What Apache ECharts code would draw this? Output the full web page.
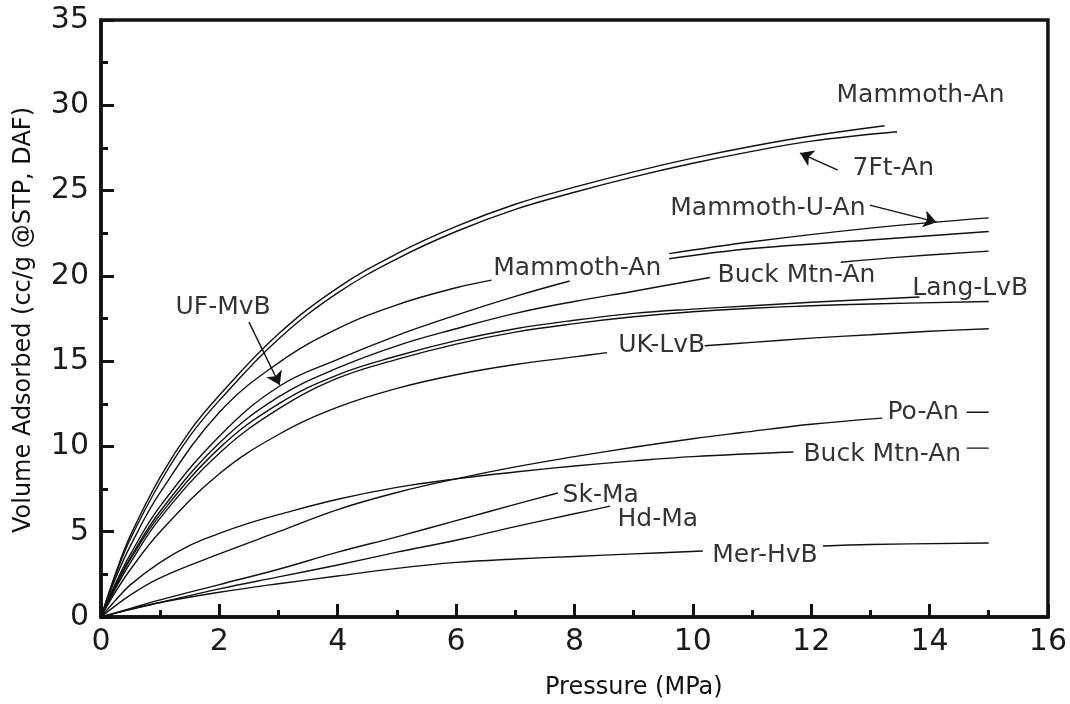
<!DOCTYPE html>
<html>
<head>
<meta charset="utf-8">
<script src="https://cdn.jsdelivr.net/npm/echarts@6/dist/echarts.min.js"></script>
<style>
  html, body { margin: 0; padding: 0; background: #fff; }
  #chart { width: 1070px; height: 704px; }
</style>
</head>
<body>
<div id="chart"></div>
<script>
// Adsorption isotherms: pressure (MPa) vs volume adsorbed (cc/g @STP, DAF).
// Each curve is a list of [pressure, volume] points; null marks a break where a label sits.
const xTickLabels = [0, 2, 4, 6, 8, 10, 12, 14, 16];
const yTickLabels = [0, 5, 10, 15, 20, 25, 30, 35];

const mammothAnTop = [[0,0],[0.25,2.6],[0.5,4.8],[1,8.2],[1.5,10.9],[2,13.0],[3,16.6],[4,19.3],[5,21.3],[6,22.9],[7,24.2],[8,25.2],[9,26.1],[10,26.9],[11,27.6],[12,28.2],[13.24,28.8]];
const sevenFtAn = [[0,0],[0.25,2.5],[0.5,4.6],[1,7.9],[1.5,10.6],[2,12.7],[3,16.3],[4,19.0],[5,21.0],[6,22.6],[7,23.9],[8,24.9],[9,25.8],[10,26.6],[11,27.3],[12,27.9],[13.45,28.45]];
const mammothAnMid = [[0,0],[0.25,2.3],[0.5,4.2],[1,7.3],[2,12.0],[3,14.9],[4,16.9],[5,18.3],[6,19.3],[6.6,19.75], null, [9.6,21.0],[11,21.6],[13,22.1],[15,22.6]];
const ufMvB = [[0,0],[0.25,2.0],[0.5,3.7],[1,6.5],[2,10.6],[3,13.5],[4,15.1],[5,16.5],[6,17.7],[7,18.8],[7.92,19.7], null, [9.6,21.3],[11,22.0],[13,22.8],[15,23.4]];
const buckMtnAnUpper = [[0,0],[0.25,1.9],[0.5,3.5],[1,6.2],[2,10.2],[3,12.9],[4,14.6],[5,15.9],[6,16.9],[7,17.8],[8,18.5],[9,19.1],[10.29,19.9], null, [12.5,20.8],[13.5,21.1],[15,21.45]];
const langLvBUpper = [[0,0],[0.25,1.8],[0.5,3.4],[1,6.0],[2,9.9],[3,12.5],[4,14.2],[5,15.3],[6,16.2],[7,16.9],[8,17.4],[9,17.8],[10,18.05],[11,18.25],[12,18.45],[13.83,18.76]];
const langLvBLower = [[0,0],[0.25,1.7],[0.5,3.2],[1,5.8],[2,9.6],[3,12.2],[4,14.0],[5,15.1],[6,16.0],[7,16.7],[8,17.2],[9,17.6],[10,17.9],[11,18.1],[12,18.25],[13,18.35],[15,18.5]];
const ukLvB = [[0,0],[0.25,1.5],[0.5,2.8],[1,5.0],[2,8.4],[3,10.7],[4,12.3],[5,13.4],[6,14.2],[7,14.8],[8,15.25],[8.55,15.5], null, [10.2,15.9],[11,16.1],[12,16.35],[13,16.55],[14,16.75],[15,16.9]];
const poAn = [[0,0],[0.5,1.3],[1,2.3],[2,3.7],[3,5.0],[4,6.3],[5,7.3],[6,8.1],[7,8.8],[8,9.4],[9,9.95],[10,10.45],[10.8,10.8],[12,11.3],[13.2,11.66], null, [14.63,12.0],[15,12.0]];
const buckMtnAnLower = [[0,0],[0.25,1.0],[0.5,1.9],[1,3.2],[1.5,4.2],[2,4.9],[2.5,5.5],[3,6.0],[4,6.9],[5,7.6],[6,8.1],[7,8.5],[8,8.85],[9,9.15],[10,9.4],[11.7,9.67], null, [14.63,9.9],[15,9.9]];
const skMa = [[0,0],[0.5,0.5],[1,1.0],[2,1.9],[3,2.8],[4,3.8],[5,4.7],[6,5.65],[7,6.6],[7.72,7.27]];
const hdMa = [[0,0],[0.5,0.45],[1,0.85],[2,1.65],[3,2.35],[4,3.05],[5,3.8],[6,4.5],[7,5.3],[8,6.05],[8.6,6.5]];
const merHvB = [[0,0],[0.5,0.45],[1,0.85],[2,1.45],[3,1.95],[4,2.4],[5,2.85],[6,3.2],[7,3.4],[8,3.55],[9,3.7],[10.17,3.87], null, [12.2,4.16],[13,4.25],[15,4.34]];

const curves = [mammothAnTop, sevenFtAn, mammothAnMid, ufMvB, buckMtnAnUpper, langLvBUpper, langLvBLower, ukLvB, poAn, buckMtnAnLower, skMa, hdMa, merHvB];

// Curve labels: [text, pressure at left edge, volume at text middle]
const curveLabels = [
  ['Mammoth-An', 12.42, 30.6],
  ['7Ft-An', 12.69, 26.3],
  ['Mammoth-U-An', 9.61, 23.97],
  ['Mammoth-An', 6.62, 20.46],
  ['Buck Mtn-An', 10.41, 20.05],
  ['Lang-LvB', 13.70, 19.28],
  ['UF-MvB', 1.25, 18.17],
  ['UK-LvB', 8.73, 15.94],
  ['Po-An', 13.28, 11.96],
  ['Buck Mtn-An', 11.86, 9.50],
  ['Sk-Ma', 7.79, 7.15],
  ['Hd-Ma', 8.72, 5.74],
  ['Mer-HvB', 10.32, 3.58]
];

// Leader arrows: [from, to] in data units
const leaderArrows = [
  [[12.45, 26.2], [11.81, 27.2]],
  [[12.99, 24.15], [14.12, 23.15]],
  [[2.5, 17.29], [3.02, 13.6]]
];

const FONT = '"DejaVu Sans", sans-serif';
const INK = '#111';

function splitSegments(points) {
  const segs = [];
  let cur = [];
  points.forEach(p => {
    if (p === null) { if (cur.length) segs.push(cur); cur = []; }
    else cur.push(p);
  });
  if (cur.length) segs.push(cur);
  return segs;
}

const series = [];
curves.forEach(c => {
  splitSegments(c).forEach(seg => {
    series.push({
      type: 'line',
      data: seg,
      smooth: 0.4,
      symbol: 'none',
      silent: true,
      lineStyle: { color: INK, width: 1.4 },
      z: 3
    });
  });
});

series.push({
  type: 'scatter',
  symbolSize: 1,
  itemStyle: { color: 'rgba(0,0,0,0)' },
  silent: true,
  data: curveLabels.map(l => ({ name: l[0], value: [l[1], l[2]] })),
  label: {
    show: true,
    position: 'right',
    distance: 0,
    formatter: '{b}',
    fontFamily: FONT,
    fontSize: 25,
    color: '#000'
  },
  z: 5
});

series.push({
  type: 'lines',
  coordinateSystem: 'cartesian2d',
  silent: true,
  symbol: ['none', 'arrow'],
  symbolSize: 13,
  lineStyle: { color: INK, width: 1.4, opacity: 1 },
  data: leaderArrows.map(a => ({ coords: a })),
  z: 4
});

const axisCommon = {
  type: 'value',
  axisLine: { show: true, lineStyle: { color: INK, width: 3.5 } },
  axisTick: { show: true, inside: true, length: 13, lineStyle: { color: INK, width: 3 } },
  minorTick: { show: true, splitNumber: 2, length: 7, lineStyle: { color: INK, width: 3 } },
  splitLine: { show: false },
  axisLabel: { fontFamily: FONT, fontSize: 30, color: '#1a1a1a' }
};

const chart = echarts.init(document.getElementById('chart'));
chart.setOption({
  animation: false,
  backgroundColor: '#fff',
  grid: { left: 101, right: 22, top: 20, bottom: 87, show: true, borderColor: INK, borderWidth: 3.5 },
  xAxis: Object.assign({}, axisCommon, {
    min: xTickLabels[0], max: xTickLabels[xTickLabels.length - 1], interval: 2,
    axisLabel: Object.assign({}, axisCommon.axisLabel, { margin: 10 })
  }),
  yAxis: Object.assign({}, axisCommon, {
    min: yTickLabels[0], max: yTickLabels[yTickLabels.length - 1], interval: 5,
    axisLabel: Object.assign({}, axisCommon.axisLabel, { margin: 12 })
  }),
  graphic: [
    {
      type: 'text', left: 545, top: 676,
      style: { text: 'Pressure (MPa)', fontFamily: FONT, fontSize: 24, fill: INK }
    },
    {
      type: 'text', x: 24, y: 320, rotation: Math.PI / 2,
      style: { text: 'Volume Adsorbed (cc/g @STP, DAF)', fontFamily: FONT, fontSize: 24, fill: INK,
               textAlign: 'center', textVerticalAlign: 'middle' }
    }
  ],
  series: series
});
</script>
</body>
</html>
